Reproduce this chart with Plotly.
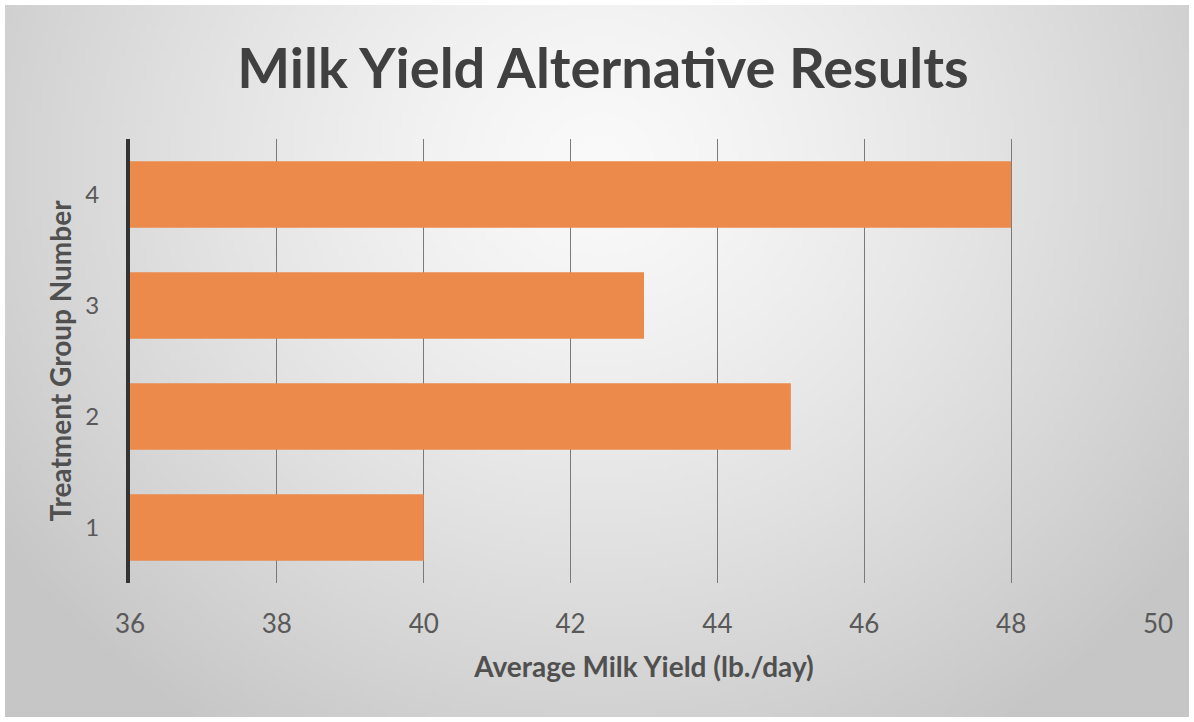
import base64, struct, zlib
import numpy as np
import plotly.graph_objects as go

# Data
groups = ["1", "2", "3", "4"]
milk_yield = [40, 45, 43, 48]
x_ticks = [36, 38, 40, 42, 44, 46, 48, 50]

W, H = 1194, 722
ML, MR, MT, MB = 130, 36, 139, 139

# Radial gradient background as a PNG data URI
def gradient_png(w=240, h=145):
    yy, xx = np.mgrid[0:h, 0:w]
    cx, cy = w * 0.5, h * 0.22
    d = np.sqrt(((xx - cx) / (w * 0.62)) ** 2 + ((yy - cy) / (h * 0.95)) ** 2)
    d = np.clip(d, 0, 1)
    val = 250 - (250 - 198) * d ** 1.3
    img = np.clip(val, 0, 255).astype(np.uint8)
    raw = b"".join(b"\x00" + bytes(np.repeat(img[r][:, None], 3, axis=1).flatten()) for r in range(h))
    def chunk(t, data):
        c = struct.pack(">I", len(data)) + t + data
        return c + struct.pack(">I", zlib.crc32(t + data) & 0xffffffff)
    png = b"\x89PNG\r\n\x1a\n" + chunk(b"IHDR", struct.pack(">IIBBBBB", w, h, 8, 2, 0, 0, 0)) \
        + chunk(b"IDAT", zlib.compress(raw, 9)) + chunk(b"IEND", b"")
    return "data:image/png;base64," + base64.b64encode(png).decode()

fig = go.Figure()
fig.add_trace(go.Bar(
    x=milk_yield, y=groups, orientation="h",
    marker=dict(color="#EB8A4B", line=dict(width=0)),
    width=0.6, showlegend=False,
))

font_family = "Lato, 'Open Sans', sans-serif"
pw, ph = W - ML - MR, H - MT - MB

fig.update_layout(
    width=W, height=H,
    margin=dict(l=ML, r=MR, t=MT, b=MB),
    paper_bgcolor="white",
    plot_bgcolor="rgba(0,0,0,0)",
    font=dict(family=font_family, color="#595959"),
    title=dict(
        text="<b>Milk Yield Alternative Results</b>",
        x=0.505, xanchor="center", y=0.905, yanchor="middle",
        font=dict(size=56, color="#404040", family=font_family),
    ),
    images=[dict(
        source=gradient_png(), xref="paper", yref="paper",
        x=-(ML - 5) / pw, y=1 + (MT - 5) / ph,
        sizex=(W - 10) / pw, sizey=(H - 10) / ph,
        xanchor="left", yanchor="top", sizing="stretch", layer="below",
    )],
    xaxis=dict(
        range=[36, 50], tickvals=x_ticks, ticktext=[str(v) for v in x_ticks],
        showgrid=True, gridcolor="#7a7a7a", gridwidth=1,
        zeroline=False, showline=False, ticks="",
        ticklabelstandoff=23,
        tickfont=dict(size=26, color="#595959"),
        title=dict(text="<b>Average Milk Yield (lb./day)</b>", standoff=19,
                   font=dict(size=28, color="#505050")),
    ),
    yaxis=dict(
        type="category", categoryorder="array", categoryarray=groups,
        range=[-0.5, 3.5],
        showgrid=False, zeroline=False,
        showline=True, linecolor="#333333", linewidth=4,
        ticks="", ticklabelstandoff=22,
        tickfont=dict(size=24, color="#595959"),
        title=dict(text="<b>Treatment Group Number</b>", standoff=6,
                   font=dict(size=28, color="#505050")),
    ),
    bargap=0.4,
)

fig.write_html("out.html")
